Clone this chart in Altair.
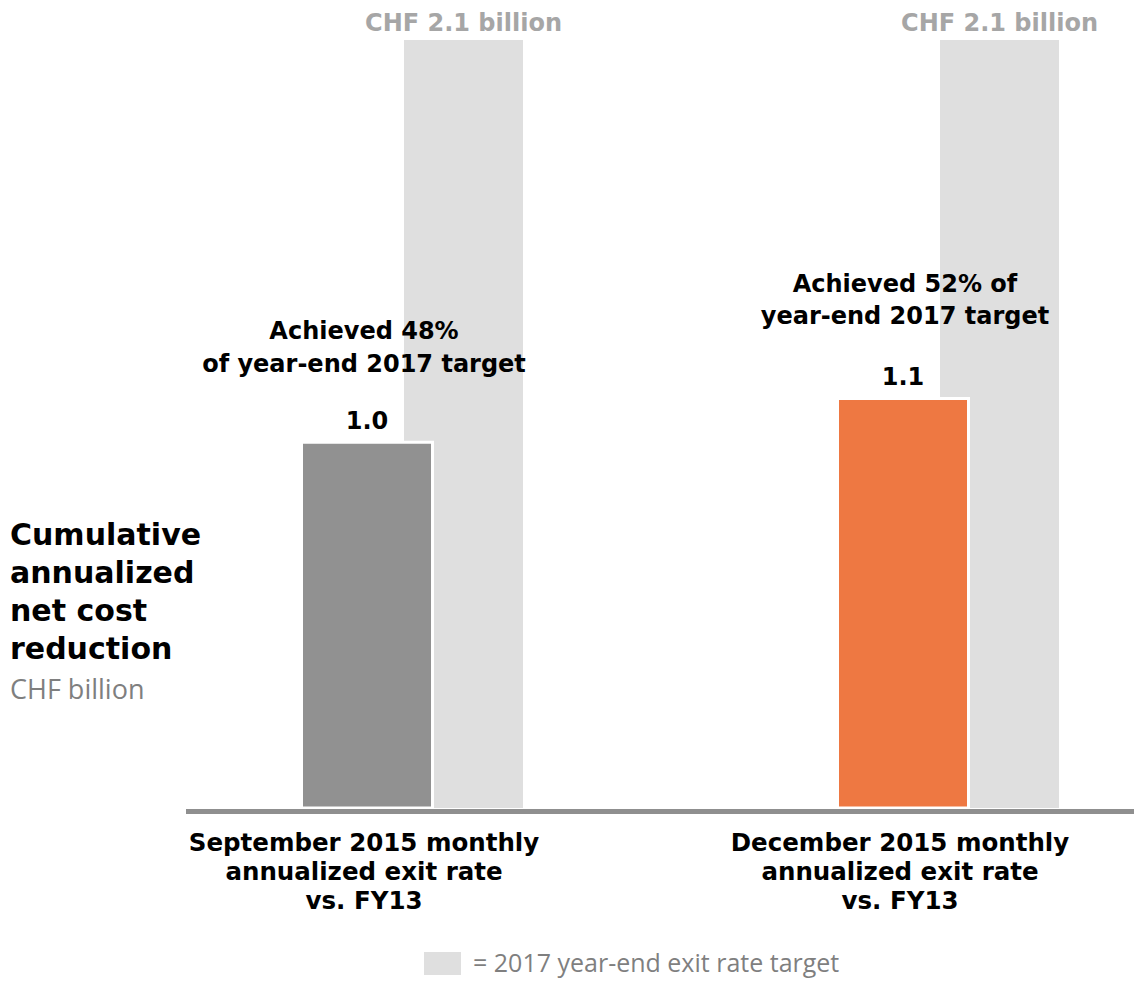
import altair as alt
import pandas as pd

# ---------------- data ----------------
PERIODS = ["Sep 2015", "Dec 2015"]
X_LABELS = [
    "September 2015 monthly\nannualized exit rate\nvs. FY13",
    "December 2015 monthly\nannualized exit rate\nvs. FY13",
]
ACTUAL = [1.0, 1.12]
ACTUAL_LABELS = ["1.0", "1.1"]
TARGET = [2.1, 2.1]
TARGET_LABELS = ["CHF 2.1 billion", "CHF 2.1 billion"]
ACHIEVED = ["Achieved 48%\nof year-end 2017 target", "Achieved 52% of\nyear-end 2017 target"]
TITLE_TEXT = "Cumulative\nannualized\nnet cost\nreduction"
UNIT_TEXT = "CHF billion"
LEGEND_LABEL = "= 2017 year-end exit rate target"

# ---------------- styles ----------------
BAR_COLORS = ["#919191", "#ee7842"]
TARGET_COLOR = "#dfdfdf"
BOLD = "DejaVu Sans"
REG = "Open Sans"
GREY_TXT = "#7f7f7f"

W, H = 1126, 974
BASE = 800
YMAX = 2.1 * BASE / 768

df = pd.DataFrame({
    "period": PERIODS,
    "xlabel": X_LABELS,
    "actual": ACTUAL,
    "actual_label": ACTUAL_LABELS,
    "target": TARGET,
    "target_label": TARGET_LABELS,
    "achieved": ACHIEVED,
    "series": [LEGEND_LABEL] * len(PERIODS),
})

x = alt.X("period:N", scale=alt.Scale(type="point", domain=PERIODS, range=[359, 895], padding=0), axis=None)
ysc = alt.Scale(domain=[0, YMAX], range=[BASE, 0], nice=False, zero=True)

base = alt.Chart(df)

target = base.mark_bar(width=119, xOffset=96.5).encode(
    x=x,
    y=alt.Y("target:Q", scale=ysc, axis=None),
    color=alt.Color(
        "series:N",
        scale=alt.Scale(domain=[LEGEND_LABEL], range=[TARGET_COLOR]),
        legend=alt.Legend(
            title=None, orient="none", legendX=416, legendY=937, padding=0,
            symbolType="M-1,-0.62H1V0.62H-1Z", symbolSize=1369, symbolStrokeWidth=0,
            symbolOpacity=1, labelFont=REG, labelFontSize=25, labelColor=GREY_TXT,
            labelOffset=12, labelLimit=0,
        ),
    ),
)

actual = base.mark_bar(width=131, stroke="white", strokeWidth=3).encode(
    x=x,
    y=alt.Y("actual:Q", scale=ysc, axis=None),
    fill=alt.Fill("period:N", scale=alt.Scale(domain=PERIODS, range=BAR_COLORS), legend=None),
)

baseline = alt.Chart(df.head(1)).mark_rule(color="#8f8f8f", strokeWidth=5, yOffset=3.5).encode(
    y=alt.datum(0), x=alt.value(178), x2=alt.value(W)
)

value_text = base.mark_text(
    font=BOLD, fontWeight="bold", fontSize=24, color="black", baseline="alphabetic", dy=-13
).encode(x=x, y=alt.Y("actual:Q", scale=ysc), text="actual_label:N")

target_text = base.mark_text(
    font=BOLD, fontWeight="bold", fontSize=24, color="#a6a6a6", baseline="alphabetic",
    dy=-9, xOffset=96.5
).encode(x=x, y=alt.Y("target:Q", scale=ysc), text="target_label:N")

ach_left = base.transform_filter(alt.datum.period == PERIODS[0]).mark_text(
    font=BOLD, fontWeight="bold", fontSize=24, color="black", baseline="alphabetic",
    lineBreak="\n", lineHeight=33, xOffset=-3
).encode(x=x, y=alt.value(331), text="achieved:N")

ach_right = base.transform_filter(alt.datum.period == PERIODS[1]).mark_text(
    font=BOLD, fontWeight="bold", fontSize=24, color="black", baseline="alphabetic",
    lineBreak="\n", lineHeight=32, xOffset=2
).encode(x=x, y=alt.value(284), text="achieved:N")

x_labels = base.mark_text(
    font=BOLD, fontWeight="bold", fontSize=24.5, color="black", baseline="alphabetic",
    lineBreak="\n", lineHeight=29, xOffset=-3
).encode(x=x, y=alt.value(843), text="xlabel:N")

title_df = pd.DataFrame({"t": [TITLE_TEXT], "u": [UNIT_TEXT]})
title_text = alt.Chart(title_df).mark_text(
    font=BOLD, fontWeight="bold", fontSize=30, color="black", align="left",
    baseline="alphabetic", lineBreak="\n", lineHeight=38
).encode(x=alt.value(2), y=alt.value(537), text="t:N")

unit_text = alt.Chart(title_df).mark_text(
    font=REG, fontSize=27, color=GREY_TXT, align="left", baseline="alphabetic"
).encode(x=alt.value(2), y=alt.value(691), text="u:N")

chart = alt.layer(
    target, actual, baseline, value_text, target_text, ach_left, ach_right,
    x_labels, title_text, unit_text
).resolve_scale(color="independent", fill="independent").properties(
    width=W, height=H, padding=0, autosize=alt.AutoSizeParams(type="none")
).configure_view(stroke=None)

chart.save("out.html", embed_options={"renderer": "svg", "actions": False})
